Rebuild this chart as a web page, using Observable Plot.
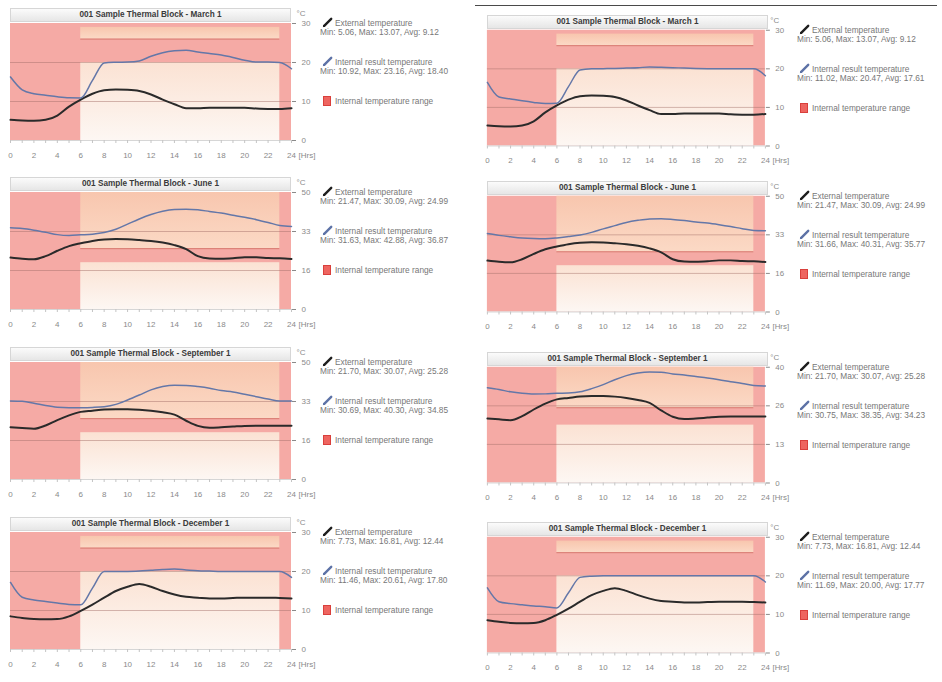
<!DOCTYPE html>
<html>
<head>
<meta charset="utf-8">
<script src="https://cdn.jsdelivr.net/npm/d3@7"></script>
<script src="https://cdn.jsdelivr.net/npm/@observablehq/plot@0.6"></script>
<style>
  html, body { margin: 0; padding: 0; background: #fff; }
  body { position: relative; width: 942px; height: 682px; overflow: hidden;
         font-family: "Liberation Sans", Arial, sans-serif; }
  .panel { position: absolute; }
  .panel svg { display: block; overflow: visible; }
  .title { position: absolute; box-sizing: border-box; height: 14px; border: 1px solid #d6d6d6;
           background: linear-gradient(#fbfbfb, #e6e6e6); color: #3a3a3a; font-size: 8.2px;
           font-weight: bold; text-align: center; line-height: 12px; white-space: nowrap; }
  .lg { position: absolute; font-size: 8.3px; color: #777; line-height: 9px; white-space: nowrap; }
  .icon { position: absolute; }
  .swatch { position: absolute; width: 6px; height: 8px; background: #ee6560; border: 1px solid #d9403c; }
  .sep { position: absolute; left: 475px; top: 5px; width: 462px; height: 1px; background: #4a4a4a; }
</style>
</head>
<body>
<svg width="0" height="0" style="position:absolute">
  <defs>
    <linearGradient id="upperFill" x1="0" y1="0" x2="0" y2="1">
      <stop offset="0" stop-color="#f8c6ae"/>
      <stop offset="1" stop-color="#fbd9c5"/>
    </linearGradient>
    <linearGradient id="lowerFill" x1="0" y1="0" x2="0" y2="1">
      <stop offset="0" stop-color="#fbe2d3"/>
      <stop offset="1" stop-color="#fdf7f3"/>
    </linearGradient>
  </defs>
</svg>
<div class="sep"></div>
<script>
// Hours of the simulated day
const hours = [0, 1, 2, 3, 4, 5, 6, 7, 8, 9, 10, 11, 12, 13, 14, 15, 16, 17, 18, 19, 20, 21, 22, 23, 24];
const xTickHours = [0, 2, 4, 6, 8, 10, 12, 14, 16, 18, 20, 22, 24];

// Design days
const days = ["March 1", "June 1", "September 1", "December 1"];

// Occupied period and internal temperature range during it (°C)
const occupied = [6, 23];
const comfortBand = [20, 26];

// External temperature, hourly (°C)
const extMarch = [5.3, 5.12, 5.06, 5.3, 6.4, 8.7, 10.5, 12.0, 12.9, 13.07, 13.0, 12.7, 11.8, 10.5, 9.3, 8.3, 8.3, 8.4, 8.4, 8.4, 8.4, 8.2, 8.1, 8.1, 8.3];
const extJune = [22.2, 21.7, 21.47, 22.8, 25.1, 27.1, 28.3, 29.3, 29.9, 30.09, 30.0, 29.7, 29.3, 28.6, 27.5, 25.8, 22.8, 21.8, 21.7, 21.9, 22.3, 22.3, 22.0, 21.9, 21.6];
const extSept = [22.3, 22.0, 21.70, 23.1, 25.4, 27.4, 28.9, 29.4, 29.9, 30.07, 30.05, 29.85, 29.4, 28.7, 27.7, 25.1, 22.9, 22.1, 22.3, 22.6, 22.9, 23.0, 23.0, 23.0, 23.0];
const extDec = [8.5, 8.1, 7.8, 7.73, 7.8, 8.5, 9.9, 11.5, 13.3, 15.0, 16.1, 16.81, 16.1, 15.0, 14.1, 13.5, 13.3, 13.1, 13.1, 13.2, 13.3, 13.3, 13.3, 13.2, 13.1];

// Internal result temperature, hourly (°C) — left column block
const intMarchA = [16.3, 13.0, 12.0, 11.6, 11.2, 10.95, 10.92, 15.4, 19.9, 20.05, 20.1, 20.4, 21.6, 22.5, 23.0, 23.16, 22.7, 22.3, 21.9, 21.3, 20.6, 20.1, 20.1, 20.0, 18.4];
const intJuneA = [34.9, 34.6, 33.9, 33.0, 32.0, 31.63, 31.9, 32.2, 32.9, 34.3, 36.5, 38.7, 40.6, 42.0, 42.75, 42.88, 42.6, 41.9, 41.2, 40.3, 39.4, 38.4, 37.2, 35.9, 35.5];
const intSeptA = [33.6, 33.4, 32.6, 31.6, 30.9, 30.69, 30.7, 30.8, 31.1, 32.1, 34.0, 36.1, 38.3, 39.7, 40.3, 40.2, 39.7, 39.0, 38.0, 37.4, 36.4, 35.4, 34.4, 33.6, 33.6];
const intDecA = [17.2, 13.4, 12.7, 12.3, 11.9, 11.55, 11.46, 15.73, 20.0, 20.0, 20.0, 20.1, 20.3, 20.5, 20.61, 20.4, 20.2, 20.1, 20.0, 20.0, 20.0, 20.0, 20.0, 20.0, 18.5];

// Internal result temperature, hourly (°C) — right column block
const intMarchB = [16.5, 12.7, 12.2, 11.7, 11.3, 11.02, 11.1, 15.4, 19.7, 20.0, 20.05, 20.1, 20.2, 20.3, 20.47, 20.4, 20.3, 20.2, 20.1, 20.05, 20.0, 20.0, 20.0, 20.0, 18.2];
const intJuneB = [33.9, 33.1, 32.5, 32.0, 31.75, 31.66, 32.0, 32.6, 33.3, 34.4, 35.9, 37.3, 38.7, 39.6, 40.2, 40.31, 40.0, 39.5, 38.9, 38.4, 37.7, 36.9, 36.0, 35.2, 35.1];
const intSeptB = [32.9, 32.3, 31.5, 31.0, 30.75, 30.8, 31.0, 31.1, 31.5, 32.6, 34.0, 35.7, 37.1, 38.0, 38.35, 38.3, 37.7, 37.3, 36.8, 36.3, 35.7, 35.0, 34.4, 33.7, 33.5];
const intDecB = [16.9, 13.3, 12.8, 12.5, 12.2, 12.0, 11.69, 15.6, 19.6, 19.9, 20.0, 20.0, 20.0, 20.0, 20.0, 20.0, 20.0, 20.0, 20.0, 20.0, 20.0, 20.0, 20.0, 20.0, 18.4];

// Reported statistics [min, max, avg]
const extStats = [[5.06, 13.07, 9.12], [21.47, 30.09, 24.99], [21.70, 30.07, 25.28], [7.73, 16.81, 12.44]];
const intStatsA = [[10.92, 23.16, 18.40], [31.63, 42.88, 36.87], [30.69, 40.30, 34.85], [11.46, 20.61, 17.80]];
const intStatsB = [[11.02, 20.47, 17.61], [31.66, 40.31, 35.77], [30.75, 38.35, 34.23], [11.69, 20.00, 17.77]];

// Temperature axis ticks (°C) and the top of the band above the internal range
const yTicksA = [[0, 10, 20, 30], [0, 50 / 3, 100 / 3, 50], [0, 50 / 3, 100 / 3, 50], [0, 10, 20, 30]];
const yTicksB = [[0, 10, 20, 30], [0, 50 / 3, 100 / 3, 50], [0, 40 / 3, 80 / 3, 40], [0, 10, 20, 30]];
const upperLimitA = [29, 50, 50, 29];
const upperLimitB = [29, 50, 40, 29];

const extSeries = [extMarch, extJune, extSept, extDec];
const columns = [
  {left: 0, tops: [0, 169, 339, 509], int: [intMarchA, intJuneA, intSeptA, intDecA], stats: intStatsA, ticks: yTicksA, upper: upperLimitA},
  {left: 477, tops: [7, 173, 344, 514], int: [intMarchB, intJuneB, intSeptB, intDecB], stats: intStatsB, ticks: yTicksB, upper: upperLimitB}
];

const pink = "#f5aaa5";
const fmt = s => `Min: ${s[0].toFixed(2)}, Max: ${s[1].toFixed(2)}, Avg: ${s[2].toFixed(2)}`;

function penIcon(color) {
  return `<svg width="11" height="11" viewBox="0 0 11 11">
    <path d="M2.2 8.8 L9.2 1.8" stroke="${color}" stroke-width="2.4" stroke-linecap="round"/>
    <path d="M0.8 10.2 L1.4 7.8 L3.2 9.6 Z" fill="${color}"/></svg>`;
}

function addDiv(parent, cls, left, top, html) {
  const d = document.createElement("div");
  d.className = cls;
  d.style.left = left + "px";
  d.style.top = top + "px";
  if (html != null) d.innerHTML = html;
  parent.append(d);
  return d;
}

function drawPanel(col, k) {
  const ticks = col.ticks[k];
  const yMax = ticks[ticks.length - 1];
  const ext = extSeries[k], int = col.int[k];
  const rows = hours.map((h, i) => ({hour: h, ext: ext[i], int: int[i]}));

  const chart = Plot.plot({
    width: 470, height: 170,
    marginLeft: 10, marginRight: 179, marginTop: 23, marginBottom: 30,
    x: {domain: [0, 24], axis: null},
    y: {domain: [0, yMax], axis: null},
    style: {fontFamily: "Liberation Sans, Arial, sans-serif", fontSize: "8px", color: "#8a8a8a", background: "transparent"},
    marks: [
      // unoccupied hours: whole range allowed
      Plot.rect([0], {x1: () => 0, x2: () => 24, y1: () => 0, y2: () => yMax, fill: pink}),
      // occupied hours: above and below the internal range
      Plot.rect([0], {x1: () => occupied[0], x2: () => occupied[1], y1: () => comfortBand[1], y2: () => col.upper[k], fill: "url(#upperFill)"}),
      Plot.rect([0], {x1: () => occupied[0], x2: () => occupied[1], y1: () => 0, y2: () => comfortBand[0], fill: "url(#lowerFill)"}),
      Plot.ruleY([comfortBand[1]], {x1: occupied[0], x2: occupied[1], stroke: "#d7796f", strokeWidth: 1}),
      // grid
      Plot.ruleY(ticks.slice(1, -1), {stroke: "#a5706a", strokeOpacity: 0.6, strokeWidth: 0.8}),
      Plot.ruleY([0], {stroke: "#d6d6d6"}),
      // axes
      Plot.axisY({ticks, anchor: "right", tickSize: 4, tickPadding: 6, label: null,
                  tickFormat: d => String(Math.floor(d + 1e-9))}),
      Plot.axisX({ticks: hours, tickSize: 3, tickFormat: () => "", label: null, stroke: "#c4c4c4"}),
      Plot.axisX({ticks: xTickHours, tickSize: 0, tickPadding: 12, label: null}),
      Plot.text(["°C"], {text: d => d, frameAnchor: "top-right", dx: 14, dy: -13, fill: "#8a8a8a"}),
      Plot.text(["[Hrs]"], {text: d => d, frameAnchor: "bottom-right", dx: 24, dy: 17, fill: "#8a8a8a"}),
      // temperatures
      Plot.line(rows, {x: "hour", y: "ext", stroke: "#2a2a2a", strokeWidth: 2, curve: "monotone-x"}),
      Plot.line(rows, {x: "hour", y: "int", stroke: "#6477a8", strokeWidth: 1.5, curve: "monotone-x"})
    ]
  });

  const wrap = document.createElement("div");
  wrap.className = "panel";
  wrap.style.left = col.left + "px";
  wrap.style.top = col.tops[k] + "px";
  wrap.append(chart);
  document.body.append(wrap);

  const x = chart.scale("x"), y = chart.scale("y");
  const x0 = x.apply(0), x1 = x.apply(24);
  const yTop = y.apply(yMax);

  const title = addDiv(wrap, "title", x0, yTop - 15, `001 Sample Thermal Block - ${days[k]}`);
  title.style.width = (x1 - x0) + "px";

  // legend rows aligned with the upper ticks
  const r1 = y.apply(ticks[3]), r2 = y.apply(ticks[2]), r3 = y.apply(ticks[1]);
  addDiv(wrap, "icon", x1 + 31, r1 - 6, penIcon("#1e1e1e"));
  addDiv(wrap, "lg", x1 + 44, r1 - 4.5, "External temperature");
  addDiv(wrap, "lg", x1 + 29, r1 + 4.5, fmt(extStats[k]));
  addDiv(wrap, "icon", x1 + 31, r2 - 6, penIcon("#5d72a6"));
  addDiv(wrap, "lg", x1 + 44, r2 - 4.5, "Internal result temperature");
  addDiv(wrap, "lg", x1 + 29, r2 + 4.5, fmt(col.stats[k]));
  addDiv(wrap, "swatch", x1 + 32, r3 - 5);
  addDiv(wrap, "lg", x1 + 44, r3 - 4.5, "Internal temperature range");
}

for (const col of columns) for (let k = 0; k < days.length; k++) drawPanel(col, k);
</script>
</body>
</html>
